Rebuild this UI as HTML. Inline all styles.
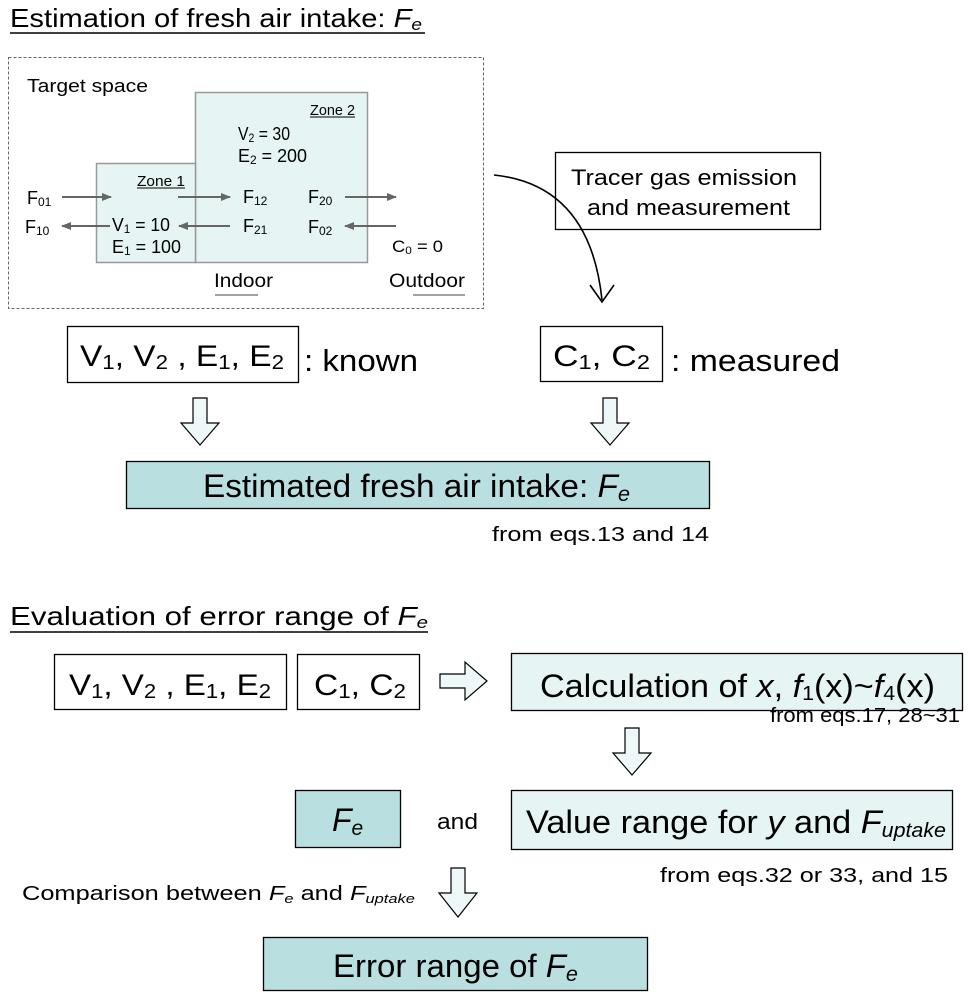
<!DOCTYPE html>
<html><head><meta charset="utf-8"><style>
html,body{margin:0;padding:0;background:#fff;}
svg{display:block;font-family:"Liberation Sans",sans-serif;}
</style></head><body>
<svg width="968" height="1000" viewBox="0 0 968 1000" xmlns="http://www.w3.org/2000/svg">
<defs>
<marker id="ah" markerWidth="10" markerHeight="8" refX="9" refY="4" orient="auto" markerUnits="userSpaceOnUse">
<path d="M0,0 L10,4 L0,8 Z" fill="#666"/></marker>
</defs>
<text x="10" y="27" font-size="26" textLength="412" lengthAdjust="spacingAndGlyphs">Estimation of fresh air intake: <tspan font-style="italic">F</tspan><tspan font-style="italic" font-size="17" dy="3">e</tspan></text>
<line x1="10" y1="33" x2="425" y2="33" stroke="#000" stroke-width="1.5"/>

<rect x="8.5" y="57.5" width="475" height="251" fill="none" stroke="#666" stroke-dasharray="3,2"/>
<text x="27" y="92" font-size="18" textLength="121" lengthAdjust="spacingAndGlyphs">Target space</text>
<rect x="195.5" y="92.5" width="172" height="170" fill="#e6f4f4" stroke="#999" stroke-width="1.5"/>
<rect x="96.5" y="163.5" width="99" height="99" fill="#e6f4f4" stroke="#999" stroke-width="1.5"/>
<text x="310" y="115" font-size="15" textLength="45" lengthAdjust="spacingAndGlyphs">Zone 2</text>
<line x1="310" y1="117" x2="355" y2="117" stroke="#000"/>
<text x="137" y="186" font-size="15" textLength="48" lengthAdjust="spacingAndGlyphs">Zone 1</text>
<line x1="137" y1="188" x2="185" y2="188" stroke="#000"/>
<text x="238" y="140" font-size="18" textLength="52" lengthAdjust="spacingAndGlyphs">V<tspan font-size="12" dy="2">2</tspan><tspan dy="-2"> = 30</tspan></text>
<text x="238" y="162" font-size="18" textLength="69" lengthAdjust="spacingAndGlyphs">E<tspan font-size="12" dy="2">2</tspan><tspan dy="-2"> = 200</tspan></text>
<text x="27" y="204" font-size="18">F<tspan font-size="12" dy="2">01</tspan></text>
<text x="25" y="233" font-size="18">F<tspan font-size="12" dy="2">10</tspan></text>
<text x="243" y="203" font-size="18">F<tspan font-size="12" dy="2">12</tspan></text>
<text x="243" y="232" font-size="18">F<tspan font-size="12" dy="2">21</tspan></text>
<text x="308" y="203" font-size="18">F<tspan font-size="12" dy="2">20</tspan></text>
<text x="308" y="233" font-size="18">F<tspan font-size="12" dy="2">02</tspan></text>
<text x="112" y="231" font-size="18" textLength="58" lengthAdjust="spacingAndGlyphs">V<tspan font-size="12" dy="2">1</tspan><tspan dy="-2"> = 10</tspan></text>
<text x="112" y="253" font-size="18" textLength="69" lengthAdjust="spacingAndGlyphs">E<tspan font-size="12" dy="2">1</tspan><tspan dy="-2"> = 100</tspan></text>
<text x="392" y="252" font-size="17" textLength="51" lengthAdjust="spacingAndGlyphs">C<tspan font-size="11" dy="2">0</tspan><tspan dy="-2"> = 0</tspan></text>
<g stroke="#666" stroke-width="2" fill="none">
<line x1="62" y1="197" x2="111" y2="197" marker-end="url(#ah)"/>
<line x1="178" y1="197" x2="230" y2="197" marker-end="url(#ah)"/>
<line x1="345" y1="197" x2="396" y2="197" marker-end="url(#ah)"/>
<line x1="110" y1="226" x2="62" y2="226" marker-end="url(#ah)"/>
<line x1="230" y1="226" x2="179" y2="226" marker-end="url(#ah)"/>
<line x1="396" y1="226" x2="345" y2="226" marker-end="url(#ah)"/>
</g>
<text x="214" y="287" font-size="19" textLength="59" lengthAdjust="spacingAndGlyphs">Indoor</text>
<line x1="215" y1="295" x2="258" y2="295" stroke="#444"/>
<text x="389" y="287" font-size="19" textLength="76" lengthAdjust="spacingAndGlyphs">Outdoor</text>
<line x1="413" y1="295" x2="465" y2="295" stroke="#444"/>

<rect x="555.5" y="152.5" width="265" height="77" fill="#fff" stroke="#000" stroke-width="1.3"/>
<text x="571" y="185" font-size="22" textLength="226" lengthAdjust="spacingAndGlyphs">Tracer gas emission</text>
<text x="587" y="215" font-size="22" textLength="203" lengthAdjust="spacingAndGlyphs">and measurement</text>
<path d="M494,175 Q590,185 602,300" fill="none" stroke="#000" stroke-width="1.6"/>
<path d="M590,285 L602,302 L614,285" fill="none" stroke="#000" stroke-width="1.6"/>

<rect x="67.5" y="326.5" width="231" height="56" fill="#fff" stroke="#000" stroke-width="1.3"/>
<text x="80" y="366" font-size="30" textLength="204" lengthAdjust="spacingAndGlyphs">V<tspan font-size="20" dy="3">1</tspan><tspan dy="-3">, V</tspan><tspan font-size="20" dy="3">2</tspan><tspan dy="-3"> , E</tspan><tspan font-size="20" dy="3">1</tspan><tspan dy="-3">, E</tspan><tspan font-size="20" dy="3">2</tspan></text>
<text x="304" y="371" font-size="31" textLength="114" lengthAdjust="spacingAndGlyphs">: known</text>
<rect x="540.5" y="326.5" width="122" height="55" fill="#fff" stroke="#000" stroke-width="1.3"/>
<text x="553" y="366" font-size="30" textLength="97" lengthAdjust="spacingAndGlyphs">C<tspan font-size="20" dy="3">1</tspan><tspan dy="-3">, C</tspan><tspan font-size="20" dy="3">2</tspan></text>
<text x="671" y="371" font-size="31" textLength="169" lengthAdjust="spacingAndGlyphs">: measured</text>

<g fill="#eef8f8" stroke="#000" stroke-width="1.2">
<path d="M193,398 H207 V423 H219 L200,445 L181,423 H193 Z"/>
<path d="M603,398 H617 V423 H629 L610,445 L591,423 H603 Z"/>
<path d="M625,728 H639 V753 H651 L632,775 L613,753 H625 Z"/>
<path d="M451,868 H465 V893 H477 L458,917 L439,893 H451 Z"/>
<path d="M440,674 H465 V662 L487,681 L465,700 V688 H440 Z"/>
</g>

<rect x="126.5" y="461.5" width="583" height="47" fill="#b9dfe1" stroke="#000" stroke-width="1.3"/>
<text x="203" y="497" font-size="32" textLength="427" lengthAdjust="spacingAndGlyphs">Estimated fresh air intake: <tspan font-style="italic">F</tspan><tspan font-style="italic" font-size="21" dy="4">e</tspan></text>
<text x="492" y="541" font-size="20" textLength="217" lengthAdjust="spacingAndGlyphs">from eqs.13 and 14</text>

<text x="10" y="625" font-size="26" textLength="418" lengthAdjust="spacingAndGlyphs">Evaluation of error range of <tspan font-style="italic">F</tspan><tspan font-style="italic" font-size="17" dy="3">e</tspan></text>
<line x1="10" y1="632" x2="428" y2="632" stroke="#000" stroke-width="1.5"/>

<rect x="54.5" y="654.5" width="232" height="55" fill="#fff" stroke="#000" stroke-width="1.3"/>
<text x="69" y="695" font-size="30" textLength="202" lengthAdjust="spacingAndGlyphs">V<tspan font-size="20" dy="3">1</tspan><tspan dy="-3">, V</tspan><tspan font-size="20" dy="3">2</tspan><tspan dy="-3"> , E</tspan><tspan font-size="20" dy="3">1</tspan><tspan dy="-3">, E</tspan><tspan font-size="20" dy="3">2</tspan></text>
<rect x="297.5" y="654.5" width="122" height="55" fill="#fff" stroke="#000" stroke-width="1.3"/>
<text x="314" y="695" font-size="30" textLength="92" lengthAdjust="spacingAndGlyphs">C<tspan font-size="20" dy="3">1</tspan><tspan dy="-3">, C</tspan><tspan font-size="20" dy="3">2</tspan></text>
<rect x="511.5" y="653.5" width="451" height="57" fill="#e6f4f4" stroke="#000" stroke-width="1.3"/>
<text x="540" y="697" font-size="32" textLength="395" lengthAdjust="spacingAndGlyphs">Calculation of <tspan font-style="italic">x</tspan>, <tspan font-style="italic">f</tspan><tspan font-size="20" dy="3">1</tspan><tspan dy="-3">(x)~</tspan><tspan font-style="italic">f</tspan><tspan font-size="20" dy="3">4</tspan><tspan dy="-3">(x)</tspan></text>
<text x="770" y="722" font-size="20" textLength="190" lengthAdjust="spacingAndGlyphs">from eqs.17, 28~31</text>

<rect x="295.5" y="790.5" width="105" height="57" fill="#b9dfe1" stroke="#000" stroke-width="1.3"/>
<text x="332" y="831" font-size="32" font-style="italic">F<tspan font-size="21" dy="4">e</tspan></text>
<text x="437" y="829" font-size="22" textLength="41" lengthAdjust="spacingAndGlyphs">and</text>
<rect x="511.5" y="790.5" width="441" height="59" fill="#e6f4f4" stroke="#000" stroke-width="1.3"/>
<text x="526" y="833" font-size="32" textLength="420" lengthAdjust="spacingAndGlyphs">Value range for <tspan font-style="italic">y</tspan> and <tspan font-style="italic">F</tspan><tspan font-style="italic" font-size="20" dy="4">uptake</tspan></text>
<text x="660" y="882" font-size="20" textLength="288" lengthAdjust="spacingAndGlyphs">from eqs.32 or 33, and 15</text>
<text x="22" y="900" font-size="20" textLength="393" lengthAdjust="spacingAndGlyphs">Comparison between <tspan font-style="italic">F</tspan><tspan font-style="italic" font-size="13" dy="3">e</tspan><tspan dy="-3"> and </tspan><tspan font-style="italic">F</tspan><tspan font-style="italic" font-size="13" dy="3">uptake</tspan></text>

<rect x="263.5" y="937.5" width="384" height="53" fill="#b9dfe1" stroke="#000" stroke-width="1.3"/>
<text x="333" y="977" font-size="32" textLength="245" lengthAdjust="spacingAndGlyphs">Error range of <tspan font-style="italic">F</tspan><tspan font-style="italic" font-size="21" dy="4">e</tspan></text>
</svg>
</body></html>
